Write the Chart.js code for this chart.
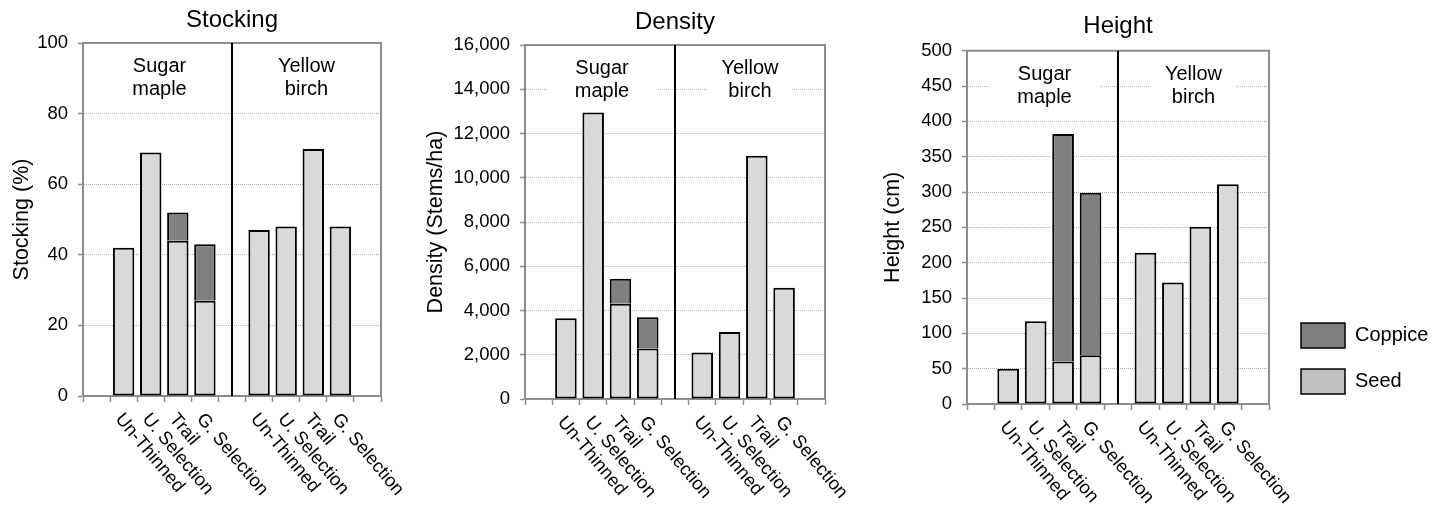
<!DOCTYPE html>
<html>
<head>
<meta charset="utf-8">
<script src="https://cdn.jsdelivr.net/npm/chart.js@4.4.1/dist/chart.umd.min.js"></script>
<style>
  body { margin: 0; background: #fff; }
  canvas { position: absolute; top: 0; }
  #stocking { left: 0; }
  #density { left: 420px; }
  #height { left: 870px; }
</style>
</head>
<body>
<canvas id="stocking" width="420" height="512"></canvas>
<canvas id="density" width="450" height="512"></canvas>
<canvas id="height" width="574" height="512"></canvas>
<script>
const FONT = "'Liberation Sans', Arial, Helvetica, sans-serif";
Chart.defaults.font.family = FONT;
Chart.defaults.color = '#000';

// empty slots give the gaps at both ends and between the two species
const categories = ['', 'Un-Thinned', 'U. Selection', 'Trail', 'G. Selection', '',
                    'Un-Thinned', 'U. Selection', 'Trail', 'G. Selection', ''];
const speciesLabels = [['Sugar', 'maple'], ['Yellow', 'birch']];

const stockingSeed    = [null, 42, 69, 44, 27, null, 47, 48, 70, 48, null];
const stockingCoppice = [null, null, null, 8, 16, null, null, null, null, null, null];

const densitySeed    = [null, 3650, 12950, 4300, 2280, null, 2100, 3030, 11000, 5030, null];
const densityCoppice = [null, null, null, 1130, 1420, null, null, null, null, null, null];

const heightSeed    = [null, 50, 117, 60, 69, null, 214, 172, 251, 311, null];
const heightCoppice = [null, null, null, 322, 230, null, null, null, null, null, null];

const SEED_FILL = '#d9d9d9';
const SEED_KEY = '#c0c0c0';
const COPPICE_FILL = '#808080';
const AXIS = '#8c8c8c';
const GRID = '#b4b4b4';
const headingBox = [110, 84];

const panelDecor = {
  id: 'panelDecor',
  beforeDatasetsDraw(chart) {
    const {ctx, chartArea: a, scales: {x}} = chart;
    const mid = x.getPixelForValue(5);
    const centres = [(a.left + mid) / 2 + 2, (mid + a.right) / 2];
    ctx.save();
    ctx.font = '20px ' + FONT;
    ctx.textAlign = 'center';
    ctx.textBaseline = 'alphabetic';
    speciesLabels.forEach((lines, i) => {
      ctx.fillStyle = '#fff';
      ctx.fillRect(centres[i] - headingBox[i] / 2, a.top + 8, headingBox[i], 52);
      ctx.fillStyle = '#000';
      lines.forEach((s, j) => ctx.fillText(s, centres[i], a.top + 29 + j * 23));
    });
    ctx.restore();
  },
  afterDraw(chart) {
    const {ctx, chartArea: a, scales: {x}} = chart;
    ctx.save();
    // top and right edges of the plot frame
    ctx.strokeStyle = AXIS;
    ctx.lineWidth = 2;
    ctx.beginPath();
    ctx.moveTo(a.left, a.top);
    ctx.lineTo(a.right, a.top);
    ctx.lineTo(a.right, a.bottom);
    ctx.stroke();
    // line between the two species
    const mid = Math.round(x.getPixelForValue(5));
    ctx.strokeStyle = '#000';
    ctx.beginPath();
    ctx.moveTo(mid, a.top);
    ctx.lineTo(mid, a.bottom);
    ctx.stroke();
    // treatment names, slanted down to the right
    ctx.fillStyle = '#000';
    ctx.font = '18.5px ' + FONT;
    ctx.textAlign = 'left';
    ctx.textBaseline = 'top';
    x.getLabels().forEach((label, i) => {
      if (!label) return;
      ctx.save();
      ctx.translate(x.getPixelForValue(i) + 2, a.bottom + 14);
      ctx.rotate(50 * Math.PI / 180);
      ctx.fillText(label, 0, 0);
      ctx.restore();
    });
    ctx.restore();
  }
};

// the key sits lower and further right than the legend box puts it;
// widen the box to the canvas edge so the names are not clipped
const legendShift = {
  id: 'legendShift',
  afterLayout(chart) {
    const l = chart.legend;
    l.left += 11;
    l.right = chart.width;
    l.width = l.right - l.left;
    l.top += 11;
    l.bottom += 11;
  }
};

function panel(id, o) {
  return new Chart(document.getElementById(id), {
    type: 'bar',
    data: {
      labels: categories,
      datasets: [
        {
          label: 'Seed', data: o.seed,
          backgroundColor: SEED_FILL, borderColor: '#000', borderWidth: 2,
          borderSkipped: false, barPercentage: 0.79, categoryPercentage: 1
        },
        {
          label: 'Coppice', data: o.coppice,
          backgroundColor: COPPICE_FILL, borderColor: '#000', borderWidth: 2,
          borderSkipped: 'start', barPercentage: 0.79, categoryPercentage: 1
        }
      ]
    },
    options: {
      responsive: false,
      animation: false,
      layout: { padding: { right: o.padRight } },
      plugins: {
        title: {
          display: true, text: o.title, fullSize: false, color: '#000',
          font: { size: 24, weight: 'normal' },
          padding: { top: o.titleTop, bottom: o.titleBottom }
        },
        legend: o.legend ? {
          display: true, position: 'right', align: 'end', fullSize: false, reverse: true,
          labels: {
            boxWidth: 44, boxHeight: 25, padding: 21, color: '#000',
            font: { size: 20 },
            generateLabels(chart) {
              return Chart.defaults.plugins.legend.labels.generateLabels(chart).map(item => {
                if (item.text === 'Seed') item.fillStyle = SEED_KEY;
                item.lineWidth = 1.5;
                return item;
              });
            }
          }
        } : { display: false },
        tooltip: { enabled: false }
      },
      scales: {
        x: {
          stacked: true,
          offset: true,
          grid: { offset: true, drawOnChartArea: false, tickLength: 6, tickColor: AXIS, tickWidth: 1.5 },
          border: { color: AXIS, width: 2 },
          ticks: { display: false },
          afterFit(scale) { scale.height = 512 - o.bottom; }
        },
        y: {
          stacked: true,
          min: 0, max: o.max,
          ticks: { stepSize: o.step, padding: 10, color: '#000', font: { size: 18.5 } },
          grid: { color: GRID, lineWidth: 1, tickLength: 5, tickColor: AXIS, tickWidth: 1.5, tickBorderDash: [] },
          border: { color: AXIS, width: 2, dash: [1, 1] },
          title: {
            display: true, text: o.yTitle, color: '#000',
            font: { size: 21.5 }, padding: { top: o.yTitlePad, bottom: 0 }
          },
          afterFit(scale) { scale.width = o.left; }
        }
      }
    },
    plugins: o.legend ? [panelDecor, legendShift] : [panelDecor]
  });
}

panel('stocking', {
  title: 'Stocking', yTitle: 'Stocking (%)',
  seed: stockingSeed, coppice: stockingCoppice, max: 100, step: 20,
  left: 83, padRight: 39, bottom: 396, titleTop: 6.1, titleBottom: 8.1, yTitlePad: 9
});

panel('density', {
  title: 'Density', yTitle: 'Density (Stems/ha)',
  seed: densitySeed, coppice: densityCoppice, max: 16000, step: 2000,
  left: 105, padRight: 45, bottom: 399, titleTop: 8.1, titleBottom: 8.1, yTitlePad: 3
});

panel('height', {
  title: 'Height', yTitle: 'Height (cm)',
  seed: heightSeed, coppice: heightCoppice, max: 500, step: 50,
  left: 97, padRight: 42, bottom: 404, titleTop: 12.3, titleBottom: 9.6, yTitlePad: 10,
  legend: true
});
</script>
</body>
</html>
